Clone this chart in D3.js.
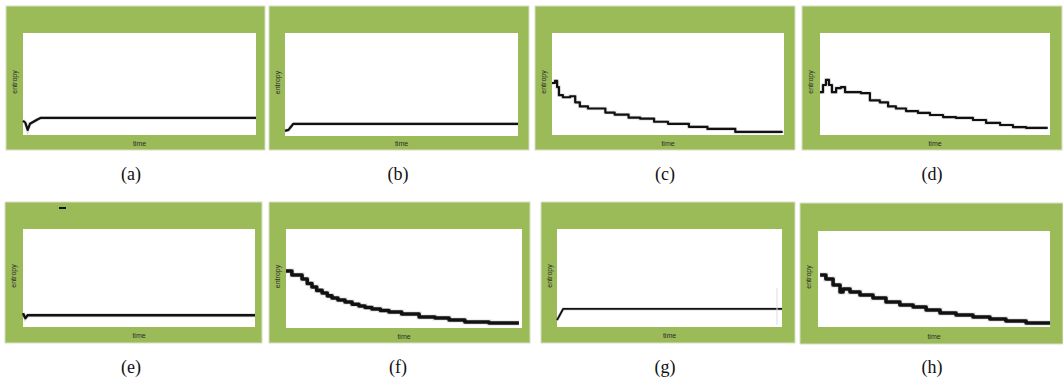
<!DOCTYPE html>
<html>
<head>
<meta charset="utf-8">
<script src="https://cdn.jsdelivr.net/npm/d3@7"></script>
<style>
	html, body { margin: 0; padding: 0; background: #fff; }
	svg { display: block; }
</style>
</head>
<body>
<svg id="chart" width="1063" height="382"></svg>
<script>
// time is in % of the run, entropy as a fraction of the plot height
const panelLabels = ['(a)', '(b)', '(c)', '(d)', '(e)', '(f)', '(g)', '(h)']

const aTime = [0, 1, 2, 3, 4.5, 6, 7.5, 100]
const aEntropy = [0.14, 0.12, 0.05, 0.11, 0.13, 0.15, 0.167, 0.167]

const bTime = [0, 1.5, 3.5, 100]
const bEntropy = [0.05, 0.06, 0.117, 0.117]

const cTime = [0, 1.3, 2.2, 3, 4.7, 7.8, 10, 12, 15.5, 20.7, 23, 27, 33, 38, 44, 50, 59, 67, 79, 90, 99]
const cEntropy = [0.51, 0.53, 0.47, 0.39, 0.37, 0.38, 0.32, 0.28, 0.26, 0.26, 0.22, 0.2, 0.17, 0.16, 0.13, 0.11, 0.08, 0.06, 0.03, 0.03, 0.02]

const dTime = [0, 1.3, 2.6, 3.9, 5.2, 7, 9.1, 10.9, 17.8, 21.7, 26, 29.6, 33, 37.4, 42.6, 47.8, 53.5, 59.1, 66.5, 72.2, 78.3, 83.9, 89.6, 99]
const dEntropy = [0.42, 0.49, 0.54, 0.49, 0.42, 0.46, 0.47, 0.42, 0.41, 0.34, 0.32, 0.28, 0.26, 0.235, 0.216, 0.196, 0.176, 0.167, 0.147, 0.118, 0.098, 0.078, 0.069, 0.069]

const eTime = [0, 1, 2, 100]
const eEntropy = [0.14, 0.09, 0.12, 0.12]

const fTime = [0, 2.5, 4.7, 6.8, 9, 11, 13, 15.3, 17.5, 19.5, 22, 25, 28, 30.9, 33.5, 36.4, 40, 43.6, 49, 56.4, 63.1, 69.1, 75.8, 86, 98.7]
const fEntropy = [0.576, 0.535, 0.535, 0.495, 0.45, 0.414, 0.38, 0.354, 0.325, 0.303, 0.283, 0.263, 0.24, 0.222, 0.207, 0.192, 0.177, 0.162, 0.141, 0.111, 0.101, 0.081, 0.061, 0.051, 0.051]

const gTime = [0, 1.2, 2.7, 100]
const gEntropy = [0.07, 0.12, 0.184, 0.184]

const hTime = [0.9, 3.4, 6.5, 9.5, 10.8, 13.8, 18.1, 23.7, 29.3, 35.3, 41, 46.6, 52.6, 59.5, 66.8, 74.1, 81, 89.7, 100]
const hEntropy = [0.542, 0.5, 0.438, 0.365, 0.396, 0.365, 0.333, 0.302, 0.26, 0.229, 0.208, 0.177, 0.146, 0.125, 0.104, 0.083, 0.063, 0.042, 0.042]

const series = [
	[aTime, aEntropy], [bTime, bEntropy], [cTime, cEntropy], [dTime, dEntropy],
	[eTime, eEntropy], [fTime, fEntropy], [gTime, gEntropy], [hTime, hEntropy]
]

// frame layout: green box (g) and white plot box (p), caption position, line width
const frames = [
	{ g: [6, 6, 265, 150], p: [23, 33, 256, 135], cx: 131, cy: 180, lw: 2.2, step: false },
	{ g: [269, 6, 529, 150], p: [285, 33, 518, 136], cx: 398, cy: 180, lw: 2.2, step: false },
	{ g: [535, 6, 795, 150], p: [552, 33, 784, 135], cx: 665, cy: 180, lw: 2.2, step: true },
	{ g: [802, 6, 1062, 150], p: [820, 33, 1050, 135], cx: 932, cy: 180, lw: 2.2, step: true },
	{ g: [5, 202, 262, 343], p: [23, 229, 255, 327], cx: 131, cy: 373, lw: 2.4, step: false },
	{ g: [269, 202, 530, 343], p: [286, 229, 522, 328], cx: 398, cy: 373, lw: 3.6, step: true },
	{ g: [541, 202, 795, 343], p: [557, 229, 782, 327], cx: 665, cy: 373, lw: 1.8, step: false },
	{ g: [800, 203, 1063, 344], p: [818, 231, 1050, 327], cx: 932, cy: 373, lw: 3.6, step: true }
]

const svg = d3.select('#chart')

frames.forEach((f, i) => {
	const [gx0, gy0, gx1, gy1] = f.g
	const [px0, py0, px1, py1] = f.p
	const panel = svg.append('g')

	panel.append('rect')
		.attr('x', gx0).attr('y', gy0)
		.attr('width', gx1 - gx0).attr('height', gy1 - gy0)
		.attr('fill', '#9bbb59')
		.attr('stroke', '#d6dfc4')
		.attr('stroke-width', 1)

	panel.append('rect')
		.attr('x', px0).attr('y', py0)
		.attr('width', px1 - px0).attr('height', py1 - py0)
		.attr('fill', '#fff')

	const x = d3.scaleLinear().domain([0, 100]).range([px0, px1])
	const y = d3.scaleLinear().domain([0, 1]).range([py1, py0])

	const [times, values] = series[i]
	const pts = times.map((t, k) => ({ time: t, entropy: values[k] }))

	const lineGen = d3.line()
		.x(d => x(d.time))
		.y(d => y(d.entropy))
		.curve(f.step ? d3.curveStepAfter : d3.curveLinear)

	// soft grey shadow under the trace
	panel.append('path')
		.attr('d', lineGen(pts))
		.attr('fill', 'none')
		.attr('stroke', '#999')
		.attr('stroke-width', f.lw + 1.4)
		.attr('opacity', 0.35)

	panel.append('path')
		.attr('d', lineGen(pts))
		.attr('fill', 'none')
		.attr('stroke', '#111')
		.attr('stroke-width', f.lw)
		.attr('stroke-linejoin', 'round')

	panel.append('text')
		.attr('x', (px0 + px1) / 2)
		.attr('y', (py1 + gy1) / 2 + 3)
		.attr('text-anchor', 'middle')
		.attr('font-family', 'Liberation Sans, sans-serif')
		.attr('font-size', 7)
		.attr('fill', '#2b2b2b')
		.text('time')

	const ex = gx0 + 9
	const ey = (py0 + py1) / 2 - 2
	panel.append('text')
		.attr('transform', `translate(${ex},${ey}) rotate(-90)`)
		.attr('dy', '0.35em')
		.attr('text-anchor', 'middle')
		.attr('font-family', 'Liberation Sans, sans-serif')
		.attr('font-size', 7)
		.attr('fill', '#2b2b2b')
		.text('entropy')

	svg.append('text')
		.attr('x', f.cx)
		.attr('y', f.cy)
		.attr('text-anchor', 'middle')
		.attr('font-family', 'Liberation Serif, serif')
		.attr('font-size', 18)
		.attr('fill', '#111')
		.text(panelLabels[i])
})

// stray marks in the original screenshots
svg.append('line')
	.attr('x1', 59).attr('x2', 66).attr('y1', 208).attr('y2', 208)
	.attr('stroke', '#111').attr('stroke-width', 2)
svg.append('line')
	.attr('x1', 777).attr('x2', 777).attr('y1', 288).attr('y2', 325)
	.attr('stroke', '#ddd').attr('stroke-width', 1)
</script>
</body>
</html>
